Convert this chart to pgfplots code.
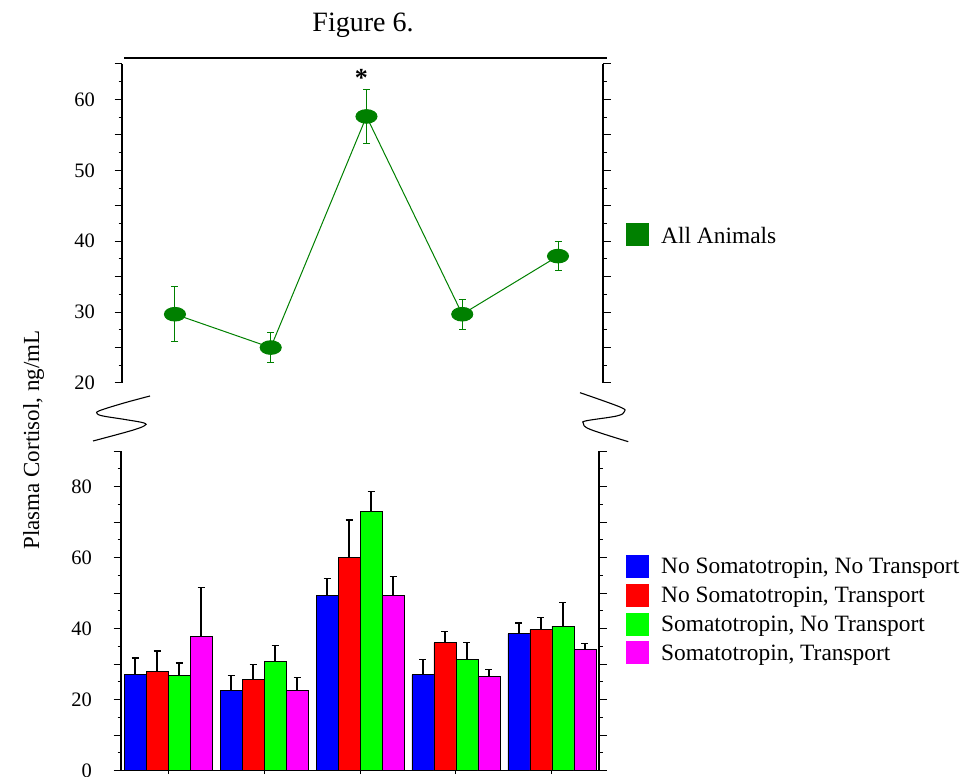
\documentclass[border=0pt]{standalone}
\usepackage{fontspec}
\setmainfont{Liberation Serif}
\usepackage{pgfplots}
\usepackage{pgfplotstable}
\pgfplotsset{compat=1.18}
\definecolor{darkgrn}{RGB}{0,128,0}
\definecolor{colB}{RGB}{0,0,255}
\definecolor{colR}{RGB}{255,0,0}
\definecolor{colG}{RGB}{0,255,0}
\definecolor{colM}{RGB}{255,0,255}
\pgfplotsset{
  sq/.style={legend image code/.code={\fill[#1] (0pt,-11pt) rectangle (22pt,11pt);}},
  common/.style={
    scale only axis, anchor=south west, tick align=outside,
    major tick length=7.5pt, minor tick length=3.5pt,
    axis line style={line width=1.2pt},
    every tick/.style={black, line width=1pt},
    tick label style={font=\fontsize{20.5}{24}\selectfont},
    /pgf/number format/assume math mode=true,
    minor y tick num=1, clip=false,
    legend cell align=left,
    legend style={draw=none, fill=none, inner sep=0pt, anchor=west,
      font=\fontsize{23.4}{27}\selectfont, row sep=6pt, column sep=12pt,
      nodes={inner sep=0pt, text depth=0pt}},
  }
}
\pgfplotstableread{
x y e
0 29.7 3.9
1 25.0 2.1
2 57.6 3.85
3 29.7 2.1
4 37.9 2.0
}\topdata
\pgfplotstableread{
x  a    ea   b    eb   c    ec   d    ed
0  27.0 4.7  28.0 5.7  26.8 3.5  37.8 13.7
1  22.5 4.2  25.8 4.2  30.8 4.5  22.5 3.8
2  49.2 5.0  60.0 10.6 73.0 5.5  49.2 5.5
3  27.0 4.2  36.0 3.3  31.3 4.7  26.4 2.2
4  38.5 3.1  39.7 3.4  40.7 6.7  34.2 1.7
}\bardata
\begin{document}
\begin{tikzpicture}
\useasboundingbox (0pt,0pt) rectangle (963pt,776pt);
\begin{scope}[x=1pt,y=1pt]
\node[anchor=base, font=\fontsize{28}{32}\selectfont] at (363,744) {Figure 6.};
\draw[line width=1.2pt] (124,718) -- (607,718);
\node[rotate=90, anchor=base, font=\fontsize{23}{27}\selectfont] at (39,336) {Plasma Cortisol, ng/mL};
\draw[line width=1.1pt] plot[smooth, tension=0.6] coordinates {(150,380) (124,373) (100,365.5) (97,362.5) (103,360) (125,356.5) (144,353) (144,350) (130,345) (93,335)};
\draw[line width=1.1pt] plot[smooth, tension=0.6] coordinates {(580,383.3) (620,369) (624.3,364.3) (616.7,360) (586.7,355.3) (583.3,352.7) (590,346.7) (628.3,334.3)};
\end{scope}

\begin{axis}[common, at={(122pt,393pt)}, width=481pt, height=319pt,
  xmin=-0.553, xmax=4.47, ymin=20, ymax=65,
  separate axis lines,
  every outer x axis line/.append style={draw=none},
  xtick=\empty,
  ytick={20,25,...,65}, yticklabels={20,,30,,40,,50,,60,},
  yticklabel style={xshift=-16pt},
  legend style={at={(1.0478,0.464)}},
]
\addplot[color=darkgrn, line width=1pt, mark=*, mark size=6.8pt,
  mark options={xscale=1.55, fill=darkgrn, draw=darkgrn}, sq=darkgrn,
  error bars/.cd, y dir=both, y explicit,
  error bar style={darkgrn, line width=1pt},
  error mark options={rotate=90, darkgrn, line width=1pt, mark size=3.5pt}]
  table[x=x, y=y, y error=e] {\topdata};
\addlegendentry{All Animals}
\node[anchor=base, font=\bfseries\fontsize{26}{30}\selectfont, xshift=-5pt] at (axis cs:2,61.8) {*};
\end{axis}

\begin{axis}[common, at={(121pt,5.3pt)}, width=478pt, height=319.7pt,
  xmin=-0.49, xmax=4.49, ymin=0, ymax=90,
  axis x line*=bottom, axis y line*=box,
  xtick={0,1,2,3,4}, xticklabels={},
  xtick style={/pgfplots/major tick length=3.5pt},
  ytick={0,10,...,90}, yticklabels={0,,20,,40,,60,,80,},
  yticklabel style={xshift=-18pt},
  ybar=0pt, bar width=22pt,
  legend style={at={(1.0565,0.5042)}},
]
\addplot[fill=colB, draw=black, line width=0.9pt, sq=colB,
  error bars/.cd, y dir=plus, y explicit,
  error bar style={black, line width=1.2pt},
  error mark options={rotate=90, black, line width=1.2pt, mark size=3.5pt}]
  table[x=x, y=a, y error=ea] {\bardata};
\addlegendentry{No Somatotropin, No Transport}
\addplot[fill=colR, draw=black, line width=0.9pt, sq=colR,
  error bars/.cd, y dir=plus, y explicit,
  error bar style={black, line width=1.2pt},
  error mark options={rotate=90, black, line width=1.2pt, mark size=3.5pt}]
  table[x=x, y=b, y error=eb] {\bardata};
\addlegendentry{No Somatotropin, Transport}
\addplot[fill=colG, draw=black, line width=0.9pt, sq=colG,
  error bars/.cd, y dir=plus, y explicit,
  error bar style={black, line width=1.2pt},
  error mark options={rotate=90, black, line width=1.2pt, mark size=3.5pt}]
  table[x=x, y=c, y error=ec] {\bardata};
\addlegendentry{Somatotropin, No Transport}
\addplot[fill=colM, draw=black, line width=0.9pt, sq=colM,
  error bars/.cd, y dir=plus, y explicit,
  error bar style={black, line width=1.2pt},
  error mark options={rotate=90, black, line width=1.2pt, mark size=3.5pt}]
  table[x=x, y=d, y error=ed] {\bardata};
\addlegendentry{Somatotropin, Transport}
\end{axis}
\end{tikzpicture}
\end{document}
